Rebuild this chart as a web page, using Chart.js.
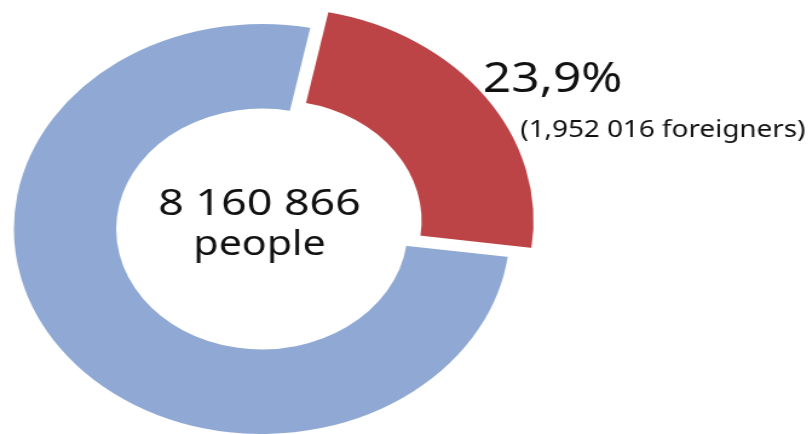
<!DOCTYPE html>
<html>
<head>
<meta charset="utf-8">
<script src="https://cdn.jsdelivr.net/npm/chart.js@4/dist/chart.umd.min.js"></script>
<style>
  html, body { margin: 0; padding: 0; background: #fff; overflow: hidden; }
  #wrap { width: 668px; height: 434px; transform: scaleX(1.21); transform-origin: 0 0; }
</style>
</head>
<body>
<div id="wrap"><canvas id="donut" width="668" height="434"></canvas></div>
<script>
var categories = ['Foreigners', 'Rest of population'];
var shares = [23.9, 76.1];
var sliceColors = ['#bd4446', '#8fa9d4'];
var totalText = ['8 160 866', 'people'];
var foreignText = ['23,9%', '(1,952 016 foreigners)'];

// red slice sticks out a little further than the ring
var explodeRadius = {
	id: 'explodeRadius',
	afterUpdate: function(chart) {
		var arc = chart.getDatasetMeta(0).data[0];
		arc.outerRadius = arc.outerRadius + 8;
	}
};

var donutText = {
	id: 'donutText',
	afterDraw: function(chart) {
		var ctx = chart.ctx;
		var arc = chart.getDatasetMeta(0).data[1];
		ctx.save();
		ctx.fillStyle = '#111';
		ctx.textAlign = 'center';
		ctx.textBaseline = 'alphabetic';
		ctx.font = '37px "Noto Sans"';
		ctx.fillText(totalText[0], arc.x - 2, 215);
		ctx.font = '34px "Noto Sans"';
		ctx.fillText(totalText[1], arc.x - 2, 255);
		ctx.textAlign = 'left';
		ctx.font = '41px "Noto Sans"';
		ctx.fillText(foreignText[0], 399, 92);
		ctx.font = '23px "Noto Sans"';
		ctx.fillText(foreignText[1], 430, 137);
		ctx.restore();
	}
};

var ctx = document.getElementById('donut').getContext('2d');
var chart = new Chart(ctx, {
	type: 'doughnut',
	data: {
		labels: categories,
		datasets: [{
			data: shares,
			backgroundColor: sliceColors,
			borderColor: '#ffffff',
			borderWidth: 2,
			offset: [56, 0]
		}]
	},
	options: {
		responsive: false,
		animation: false,
		rotation: 11.5,
		radius: 206,
		cutout: '58%',
		layout: { padding: { top: 24, right: 235 } },
		plugins: {
			legend: { display: false },
			tooltip: { enabled: false }
		}
	},
	plugins: [explodeRadius, donutText]
});
</script>
</body>
</html>
